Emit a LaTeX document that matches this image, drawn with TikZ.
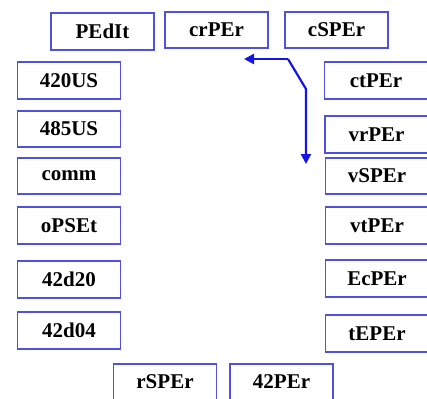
\documentclass[tikz,border=0pt]{standalone}
\usepackage{fontspec}
\setmainfont{Liberation Serif}
\usetikzlibrary{arrows.meta}
\definecolor{boxblue}{RGB}{80,80,225}
\definecolor{arrblue}{RGB}{20,20,230}
\begin{document}
\begin{tikzpicture}[x=1pt,y=-1pt,
  box/.style={draw=boxblue,line width=1.6pt,fill=white,minimum width=103pt,minimum height=36.5pt,inner sep=0pt,font=\fontsize{21}{24}\selectfont\bfseries},
  conn/.style={draw=arrblue,line width=2.2pt,line join=round,-{Triangle[length=10pt,width=10pt]}}]
\useasboundingbox (0,0) rectangle (427,398);
\node[box] (pedit) at (102.5,31.5) {PEdIt};
\node[box] (crper) at (216.5,30) {crPEr};
\node[box] (csper) at (336.5,30) {cSPEr};
\node[box] (us420) at (69,80.5) {420US};
\node[box] (us485) at (69,129) {485US};
\node[box] (comm) at (69,176) {comm};
\node[box] (opset) at (69,225.5) {oPSEt};
\node[box] (d20) at (69,279.5) {42d20};
\node[box] (d04) at (69,330.5) {42d04};
\node[box] (ctper) at (376,80.5) {ctPEr};
\node[box] (vrper) at (376.5,134.5) {vrPEr};
\node[box] (vsper) at (377,176) {vSPEr};
\node[box] (vtper) at (377,225.5) {vtPEr};
\node[box] (ecper) at (377,278.5) {EcPEr};
\node[box] (teper) at (377,333.5) {tEPEr};
\node[box] (rsper) at (165,382) {rSPEr};
\node[box] (per42) at (281.5,382) {42PEr};
\coordinate (corner) at (288,59);
\coordinate (bend) at (306,89);
\coordinate (tipl) at (244,59);
\coordinate (tipd) at (306,164);
\draw[conn] (corner) -- (tipl);
\draw[conn] (corner) -- (bend) -- (tipd);
\end{tikzpicture}
\end{document}
